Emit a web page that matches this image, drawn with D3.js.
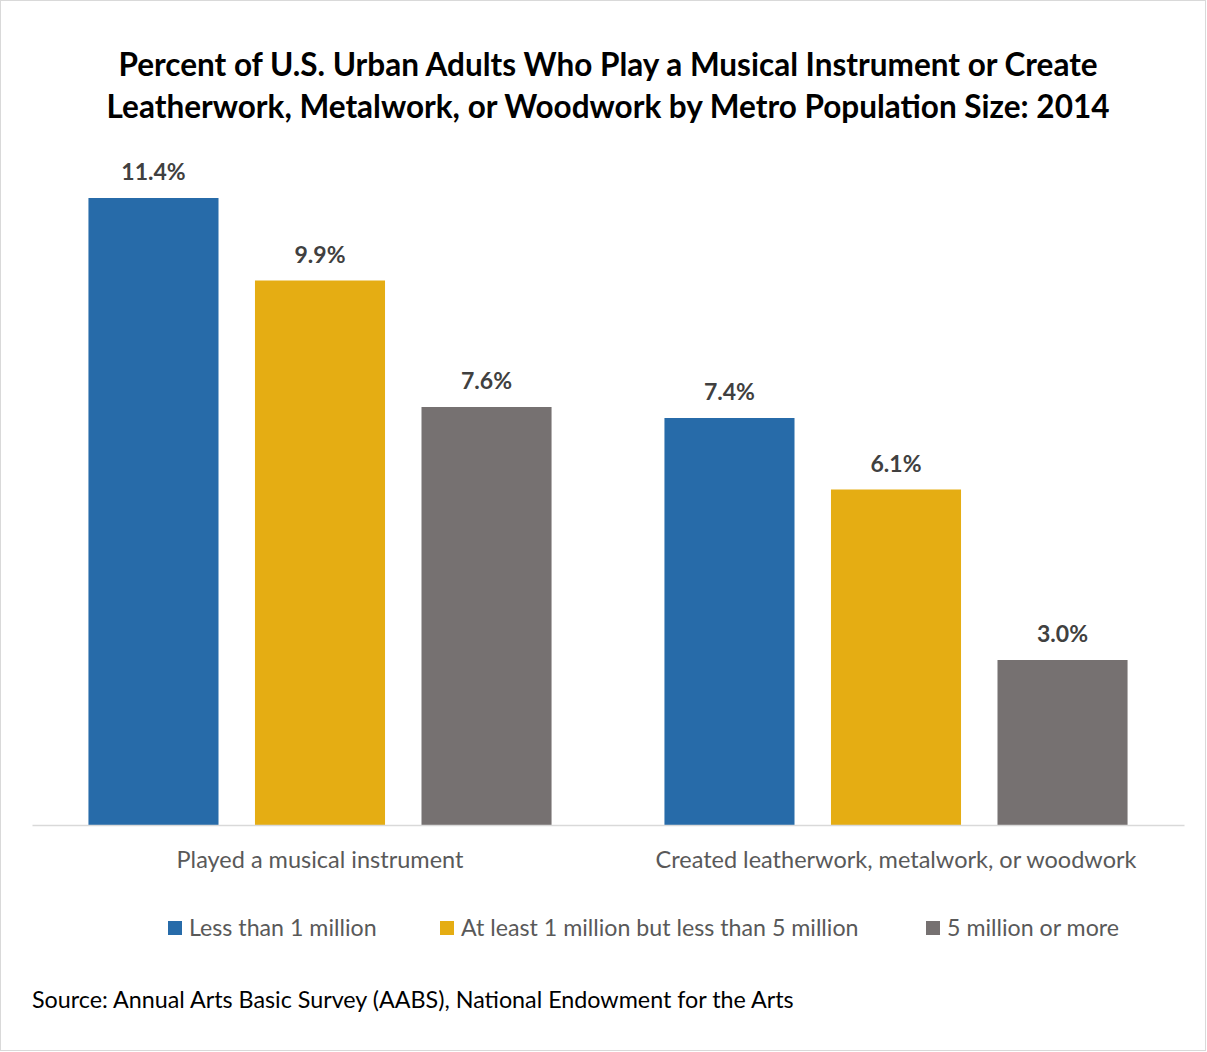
<!DOCTYPE html>
<html>
<head>
<meta charset="utf-8">
<script src="https://cdn.jsdelivr.net/npm/d3@7"></script>
<style>
body { margin: 0; background: #fff; }
svg text { font-family: Lato, "Open Sans", sans-serif; }
</style>
</head>
<body>
<svg id="chart" width="1207" height="1052"></svg>
<script>
const titleLines = ["Percent of U.S. Urban Adults Who Play a Musical Instrument or Create",
	"Leatherwork, Metalwork, or Woodwork by Metro Population Size: 2014"];
const categories = ["Played a musical instrument", "Created leatherwork, metalwork, or woodwork"];
const seriesNames = ["Less than 1 million", "At least 1 million but less than 5 million", "5 million or more"];
const lessThan1M = [11.4, 7.4];
const from1To5M = [9.9, 6.1];
const over5M = [7.6, 3.0];
const seriesColors = ["#276ba9", "#e5ad13", "#767171"];
const sourceNote = "Source: Annual Arts Basic Survey (AABS), National Endowment for the Arts";

const seriesValues = [lessThan1M, from1To5M, over5M];
const svg = d3.select("#chart");

svg.append("rect")
	.attr("x", 0.5).attr("y", 0.5)
	.attr("width", 1205).attr("height", 1050)
	.attr("fill", "#fff").attr("stroke", "#d9d9d9");

let title = svg.append("text")
	.attr("text-anchor", "middle")
	.attr("font-weight", "bold")
	.attr("font-size", 31.5)
	.attr("fill", "#000");
titleLines.forEach(function(line, i){
	title.append("tspan").attr("x", 608).attr("y", 76 + i * 42).text(line);
});

let x0 = d3.scaleBand().domain(categories).range([32, 1184]).padding(0),
	x1 = d3.scaleBand().domain(seriesNames).range([0, x0.bandwidth()]).paddingInner(0.219).paddingOuter(0.339),
	y = d3.scaleLinear().domain([0, 12]).range([825, 165]);

let groups = svg.selectAll(".group")
	.data(categories)
	.enter().append("g")
	.attr("class", "group")
	.attr("transform", function(d){ return "translate(" + x0(d) + ",0)"; });

groups.selectAll("rect")
	.data(function(d, i){
		return seriesNames.map(function(s, j){ return {series: s, value: seriesValues[j][i], color: seriesColors[j]}; });
	})
	.enter().append("rect")
	.attr("x", function(d){ return x1(d.series); })
	.attr("y", function(d){ return y(d.value); })
	.attr("width", x1.bandwidth())
	.attr("height", function(d){ return y(0) - y(d.value); })
	.attr("fill", function(d){ return d.color; });

groups.selectAll(".val")
	.data(function(d, i){
		return seriesNames.map(function(s, j){ return {series: s, value: seriesValues[j][i]}; });
	})
	.enter().append("text")
	.attr("class", "val")
	.attr("x", function(d){ return x1(d.series) + x1.bandwidth() / 2; })
	.attr("y", function(d){ return y(d.value) - 18; })
	.attr("text-anchor", "middle")
	.attr("font-weight", "bold")
	.attr("font-size", 23)
	.attr("fill", "#404040")
	.text(function(d){ return d.value.toFixed(1) + "%"; });

let xAxis = svg.append("g")
	.attr("transform", "translate(0," + y(0) + ")")
	.call(d3.axisBottom(x0).tickSize(0).tickPadding(26));
xAxis.select(".domain").attr("stroke", "#d9d9d9").attr("stroke-width", 1.5);
xAxis.selectAll("text")
	.attr("font-family", "Lato, 'Open Sans', sans-serif")
	.attr("font-size", 23.5)
	.attr("fill", "#595959");

// legend
let legendX = [168, 440, 926];
let legend = svg.selectAll(".legend")
	.data(seriesNames)
	.enter().append("g")
	.attr("class", "legend")
	.attr("transform", function(d, i){ return "translate(" + legendX[i] + ",921)"; });
legend.append("rect")
	.attr("width", 14).attr("height", 14)
	.attr("fill", function(d, i){ return seriesColors[i]; });
legend.append("text")
	.attr("x", 21).attr("y", 15)
	.attr("font-size", 23.2)
	.attr("fill", "#595959")
	.text(function(d){ return d; });

svg.append("text")
	.attr("x", 32).attr("y", 1008)
	.attr("font-size", 23.3)
	.attr("fill", "#000")
	.text(sourceNote);
</script>
</body>
</html>
